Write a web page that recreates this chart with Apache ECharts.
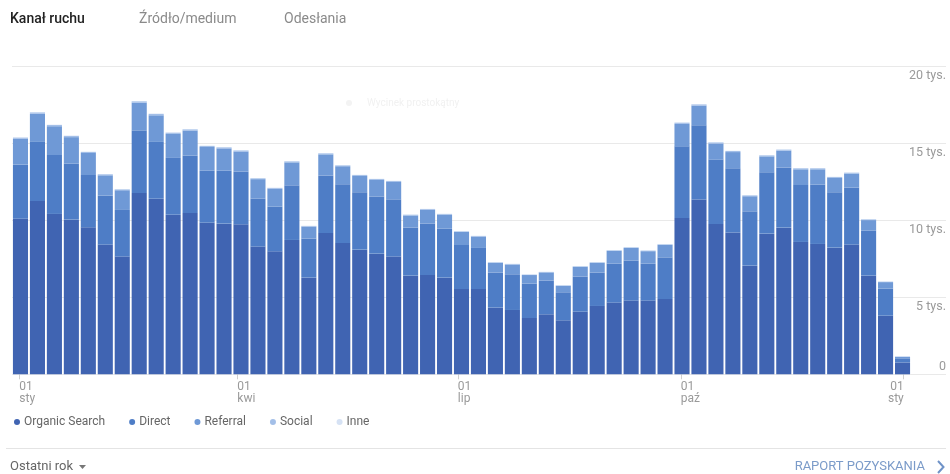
<!DOCTYPE html>
<html><head><meta charset="utf-8">
<script src="https://cdn.jsdelivr.net/npm/echarts@6/dist/echarts.min.js"></script>
<style>html,body{margin:0;padding:0;background:#fff}#c{width:950px;height:474px}</style>
</head><body><div id="c"></div>
<script>
const weeks = ['2017-12-29','2018-01-05','2018-01-12','2018-01-19','2018-01-26','2018-02-02','2018-02-09','2018-02-16','2018-02-23','2018-03-02','2018-03-09','2018-03-16','2018-03-23','2018-03-30','2018-04-06','2018-04-13','2018-04-20','2018-04-27','2018-05-04','2018-05-11','2018-05-18','2018-05-25','2018-06-01','2018-06-08','2018-06-15','2018-06-22','2018-06-29','2018-07-06','2018-07-13','2018-07-20','2018-07-27','2018-08-03','2018-08-10','2018-08-17','2018-08-24','2018-08-31','2018-09-07','2018-09-14','2018-09-21','2018-09-28','2018-10-05','2018-10-12','2018-10-19','2018-10-26','2018-11-02','2018-11-09','2018-11-16','2018-11-23','2018-11-30','2018-12-07','2018-12-14','2018-12-21','2018-12-28'];
const organic = [10110,11260,10420,10050,9550,8430,7650,11780,11410,10370,10480,9850,9790,9750,8300,7990,8730,6280,9180,8530,8100,7840,7650,6410,6450,6280,5540,5540,4330,4180,3660,3900,3510,4070,4440,4660,4790,4790,4890,10160,11350,9770,9210,7060,9140,9530,8600,8470,8230,8430,6410,3810,770];
const direct = [3510,3840,3830,3640,3400,3180,3030,4070,3690,3690,3730,3380,3440,3420,3110,2900,3550,2540,3730,3820,3730,3700,3720,3120,3340,3180,2860,2670,2280,2320,2230,2190,1820,2280,2170,2530,2600,2400,2710,4650,4830,4180,4180,3530,3990,3900,3700,3850,3600,3700,2920,1760,270];
const referral = [1680,1830,1870,1720,1430,1320,1280,1800,1730,1560,1630,1540,1450,1310,1270,1160,1490,770,1380,1170,1060,1090,1130,790,900,910,850,740,630,630,560,530,420,630,630,830,820,810,810,1460,1280,1050,1050,980,1030,1100,1020,1000,930,910,690,420,100];
const social = [80,90,80,80,70,70,60,90,90,80,80,70,70,70,60,60,70,50,70,60,60,60,60,50,50,50,40,40,40,40,30,30,30,40,40,40,40,40,40,80,80,70,70,60,70,70,70,70,60,60,50,30,10];
const inne = [20,20,20,20,15,15,15,20,20,20,20,15,15,15,15,15,15,10,15,15,15,15,15,10,10,10,10,10,10,10,10,10,10,10,10,10,10,10,10,15,20,15,15,15,15,15,15,15,15,15,10,10,5];
const seriesNames = ['Organic Search','Direct','Referral','Social','Inne'];
const yTicks = [0,5000,10000,15000,20000];
const xTickDates = ['2018-01-01','2018-04-01','2018-07-01','2018-10-01','2019-01-01'];
const xTickLabels = ['01\nsty','01\nkwi','01\nlip','01\npaź','01\nsty'];

const colors = ['#4064b2','#4e7dc6','#6f99d6','#a3bfe8','#d6e2f4'];
const DAY = 86400000;
const toTs = s => { const p = s.split('-').map(Number); return Date.UTC(p[0], p[1]-1, p[2]); };
const t0 = toTs(weeks[0]);
const dMax = weeks.length * 7;                       // axis length in days
const tickDays = xTickDates.map(s => Math.round((toTs(s) - t0) / DAY));
const labelFor = v => { const i = tickDays.indexOf(Math.round(v)); return i >= 0 ? xTickLabels[i] : ''; };
const yMax = yTicks[yTicks.length-1];
const yInt = yTicks[1] - yTicks[0];
const lblStyle = {color:'#9a9a9a', fontSize:12, lineHeight:12, fontFamily:'Roboto'};

const chart = echarts.init(document.getElementById('c'), null, {renderer:'canvas'});
const dataArr = [organic, direct, referral, social, inne];
chart.setOption({
  animation:false,
  textStyle:{fontFamily:'Roboto'},
  grid:[
    {left:12, right:39, top:66.5, bottom:99.7},
    {left:12, right:4, top:66.5, bottom:99.7}
  ],
  legend:{
    left:9, top:411, icon:'circle', itemWidth:6, itemHeight:6, itemGap:24,
    textStyle:{color:'#666', fontSize:12, fontFamily:'Roboto', padding:[0,0,0,-1]},
    data:seriesNames
  },
  xAxis:[
    {type:'category', gridIndex:0, data:weeks, axisLine:{show:false}, axisTick:{show:false}, axisLabel:{show:false}},
    {type:'value', gridIndex:0, min:0, max:dMax, position:'bottom',
      axisLine:{show:false}, splitLine:{show:false},
      axisTick:{show:true, customValues:tickDays, length:5, lineStyle:{color:'#d0d0d0'}},
      axisLabel:Object.assign({customValues:tickDays.slice(0,4), formatter:labelFor, align:'left', margin:7, hideOverlap:false, showMinLabel:true, showMaxLabel:true}, lblStyle)},
    {type:'value', gridIndex:0, min:0, max:dMax, position:'bottom',
      axisLine:{show:false}, splitLine:{show:false}, axisTick:{show:false},
      axisLabel:Object.assign({customValues:tickDays.slice(4), formatter:labelFor, align:'right', margin:7, hideOverlap:false, showMinLabel:true, showMaxLabel:true}, lblStyle)},
    {type:'value', gridIndex:1, show:false, min:0, max:1}
  ],
  yAxis:[
    {type:'value', gridIndex:0, min:0, max:yMax, interval:yInt, axisLine:{show:false}, axisTick:{show:false}, axisLabel:{show:false}, splitLine:{show:false}},
    {type:'value', gridIndex:1, min:0, max:yMax, interval:yInt, position:'right',
      axisLine:{show:false}, axisTick:{show:false},
      splitLine:{show:true, lineStyle:{color:'#e9e9e9'}},
      axisLabel:{inside:true, showMinLabel:false, margin:0, align:'right', verticalAlign:'top', padding:[3,0,0,0],
        formatter:v => (v/1000) + ' tys.', color:'#9a9a9a', fontSize:12.5}},
    {type:'value', gridIndex:1, min:0, max:yMax, interval:yInt, position:'right',
      axisLine:{show:false}, axisTick:{show:false}, splitLine:{show:false},
      axisLabel:{inside:true, margin:0, align:'right', verticalAlign:'bottom', padding:[0,0,1,0],
        formatter:v => v === 0 ? '0' : '', color:'#9a9a9a', fontSize:12.5}}
  ],
  series: seriesNames.map((n,i) => ({
    name:n, type:'bar', stack:'total', xAxisIndex:0, yAxisIndex:0,
    barCategoryGap:'11%', data:dataArr[i], itemStyle:{color:colors[i]}
  })),
  graphic:[
    {type:'text', x:10, y:19, style:{text:'Kanał ruchu', fill:'#222', font:'500 14px Roboto', verticalAlign:'middle'}},
    {type:'text', x:139, y:19, style:{text:'Źródło/medium', fill:'#8a8a8a', font:'14px Roboto', verticalAlign:'middle'}},
    {type:'text', x:284, y:19, style:{text:'Odesłania', fill:'#8a8a8a', font:'14px Roboto', verticalAlign:'middle'}},
    {type:'circle', shape:{cx:349, cy:103, r:3}, style:{fill:'#f3f3f3'}},
    {type:'text', x:367, y:103, style:{text:'Wycinek prostokątny', fill:'#f1f1f1', font:'10px Roboto', verticalAlign:'middle'}},
    {type:'line', shape:{x1:6, y1:448.5, x2:946, y2:448.5}, style:{stroke:'#e4e4e4', lineWidth:1}},
    {type:'text', x:10, y:467, style:{text:'Ostatni rok', fill:'#666', font:'13px Roboto', verticalAlign:'middle'}},
    {type:'polygon', shape:{points:[[79,465],[86,465],[82.5,469]]}, style:{fill:'#777'}},
    {type:'text', x:925, y:467, style:{text:'RAPORT POZYSKANIA', fill:'#7b9bc9', font:'13px Roboto', align:'right', verticalAlign:'middle'}},
    {type:'polyline', shape:{points:[[938,461],[943.5,467],[938,473]]}, style:{stroke:'#6f93c8', lineWidth:2, fill:null}}
  ]
});
</script></body></html>
